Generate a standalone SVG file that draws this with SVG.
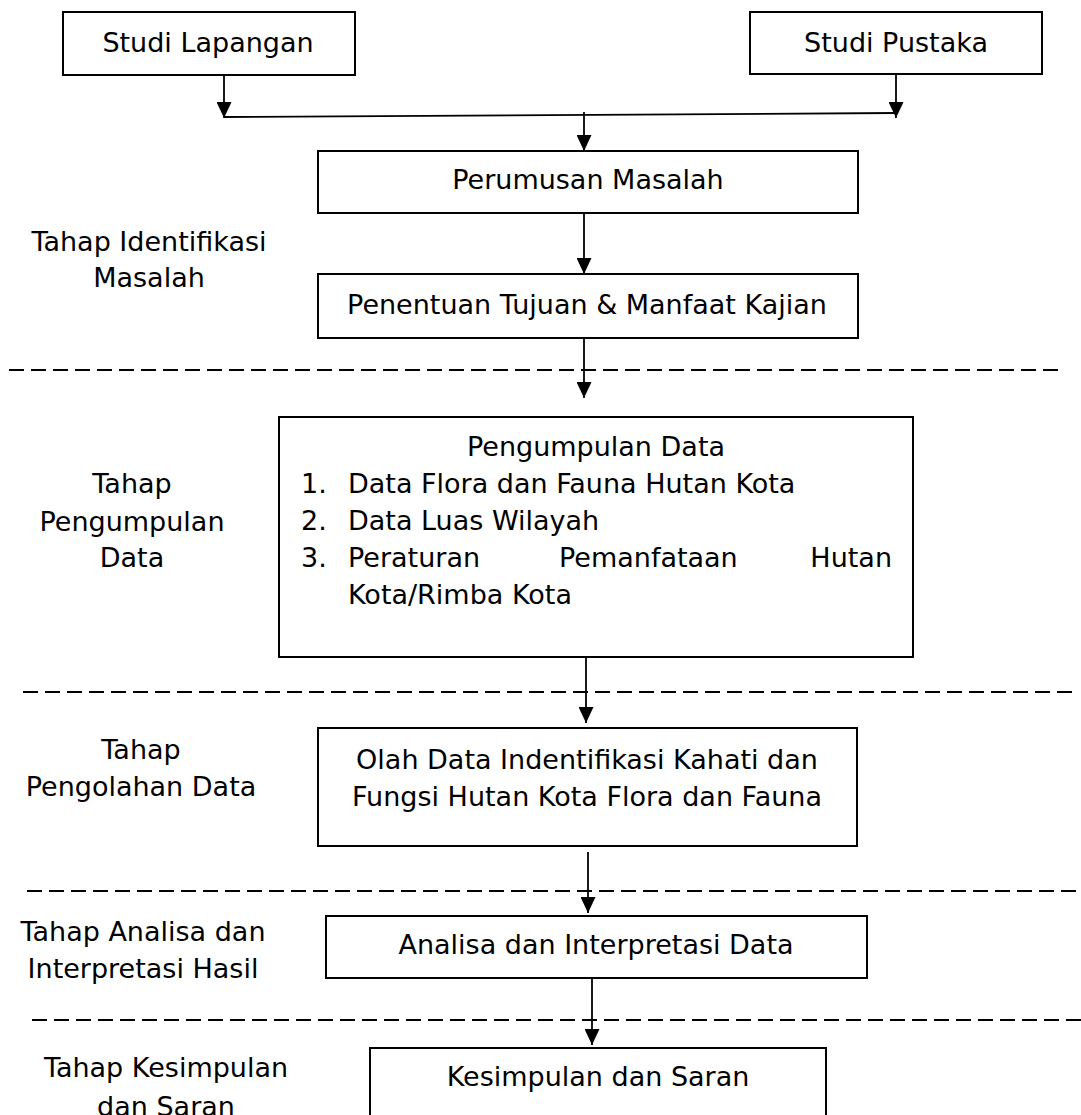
<svg xmlns="http://www.w3.org/2000/svg" width="1081" height="1115" viewBox="0 0 1081 1115">
<style>
.box{fill:#fff;stroke:#000;stroke-width:2}
.t{font-family:"DejaVu Sans","Verdana",sans-serif;font-size:27px;fill:#000}
.c{text-anchor:middle}
.ln{fill:none;stroke:#000;stroke-width:1.8}
.dash{fill:none;stroke:#000;stroke-width:2;stroke-dasharray:15 7}
</style>
<defs>
<marker id="arr" markerUnits="userSpaceOnUse" markerWidth="16" markerHeight="15" refX="16" refY="7.5" orient="auto" viewBox="0 0 16 15">
<path d="M0,0 L16,7.5 L0,15 Z" fill="#000"/>
</marker>
</defs>
<rect width="1081" height="1115" fill="#fff"/>
<g id="separators">
<line class="dash" x1="9" y1="370" x2="1058" y2="370"/>
<line class="dash" x1="23" y1="692" x2="1073" y2="692"/>
<line class="dash" x1="27" y1="891" x2="1081" y2="891"/>
<line class="dash" x1="32" y1="1020" x2="1081" y2="1020"/>
</g>
<g id="stage-labels">
<text class="t c" x="149" y="251">Tahap Identifikasi</text>
<text class="t c" x="149" y="287">Masalah</text>
<text class="t c" x="132" y="493">Tahap</text>
<text class="t c" x="132" y="531">Pengumpulan</text>
<text class="t c" x="132" y="567">Data</text>
<text class="t c" x="141" y="759">Tahap</text>
<text class="t c" x="141" y="796">Pengolahan Data</text>
<text class="t c" x="143" y="941">Tahap Analisa dan</text>
<text class="t c" x="143" y="978">Interpretasi Hasil</text>
<text class="t c" x="166" y="1077">Tahap Kesimpulan</text>
<text class="t c" x="166" y="1116">dan Saran</text>
</g>
<g id="connectors">
<line class="ln" x1="224" y1="75" x2="224" y2="118" marker-end="url(#arr)"/>
<line class="ln" x1="896" y1="74" x2="896" y2="118" marker-end="url(#arr)"/>
<line class="ln" x1="224" y1="117" x2="896" y2="113"/>
<line class="ln" x1="584" y1="112" x2="584" y2="151" marker-end="url(#arr)"/>
<line class="ln" x1="584" y1="213" x2="584" y2="274" marker-end="url(#arr)"/>
<line class="ln" x1="584" y1="338" x2="584" y2="398" marker-end="url(#arr)"/>
<line class="ln" x1="586" y1="655" x2="586" y2="723" marker-end="url(#arr)"/>
<line class="ln" x1="588" y1="852" x2="588" y2="913" marker-end="url(#arr)"/>
<line class="ln" x1="592" y1="978" x2="592" y2="1045" marker-end="url(#arr)"/>
</g>
<g id="studi-lapangan">
<rect class="box" x="63" y="12" width="292" height="63"/>
<text class="t c" x="208" y="52">Studi Lapangan</text>
</g>
<g id="studi-pustaka">
<rect class="box" x="750" y="12" width="292" height="62"/>
<text class="t c" x="896" y="52">Studi Pustaka</text>
</g>
<g id="perumusan-masalah">
<rect class="box" x="318" y="151" width="540" height="62"/>
<text class="t c" x="588" y="189">Perumusan Masalah</text>
</g>
<g id="penentuan-tujuan">
<rect class="box" x="318" y="274" width="540" height="64"/>
<text class="t c" x="587" y="314">Penentuan Tujuan &amp; Manfaat Kajian</text>
</g>
<g id="pengumpulan-data">
<rect class="box" x="279" y="417" width="634" height="240"/>
<text class="t c" x="596" y="456">Pengumpulan Data</text>
<text class="t" x="301" y="493">1.</text>
<text class="t" x="348" y="493">Data Flora dan Fauna Hutan Kota</text>
<text class="t" x="301" y="530">2.</text>
<text class="t" x="348" y="530">Data Luas Wilayah</text>
<text class="t" x="301" y="567">3.</text>
<text class="t" x="348" y="567">Peraturan</text>
<text class="t" x="559" y="567">Pemanfataan</text>
<text class="t" x="892" y="567" text-anchor="end">Hutan</text>
<text class="t" x="348" y="604">Kota/Rimba Kota</text>
</g>
<g id="olah-data">
<rect class="box" x="318" y="728" width="539" height="118"/>
<text class="t c" x="587" y="769">Olah Data Indentifikasi Kahati dan</text>
<text class="t c" x="587" y="806">Fungsi Hutan Kota Flora dan Fauna</text>
</g>
<g id="analisa-data">
<rect class="box" x="326" y="916" width="541" height="62"/>
<text class="t c" x="596" y="954">Analisa dan Interpretasi Data</text>
</g>
<g id="kesimpulan-saran">
<rect class="box" x="370" y="1048" width="456" height="100"/>
<text class="t c" x="598" y="1086">Kesimpulan dan Saran</text>
</g>
</svg>
